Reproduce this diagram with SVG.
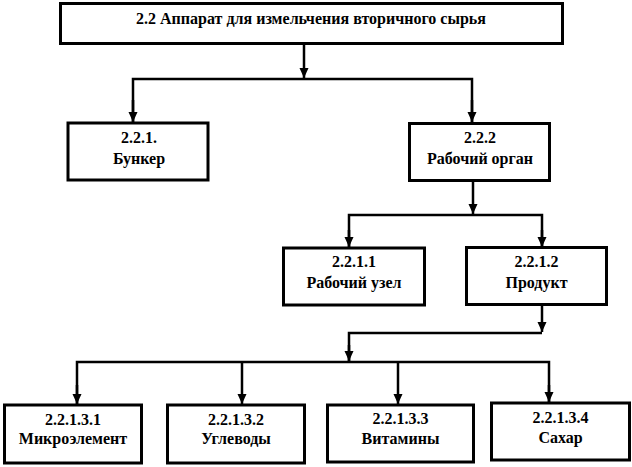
<svg xmlns="http://www.w3.org/2000/svg" width="632" height="467" viewBox="0 0 632 467">
<defs>
<style>
.box{fill:#fff;stroke:#000;stroke-width:3}
.t{font-family:"Times New Roman","Liberation Serif",serif;font-weight:bold;font-size:16px;text-anchor:middle;fill:#000}
.c{fill:none;stroke:#000;stroke-width:2.5}
</style>
<marker id="a" markerUnits="userSpaceOnUse" markerWidth="10" markerHeight="11" refX="10" refY="5" orient="auto" viewBox="0 0 10 10">
<path d="M0,0.5 L10,5 L0,9.5 Z" fill="#000"/>
</marker>
</defs>
<rect width="632" height="467" fill="#fff"/>
<g id="connectors">
<path class="c" d="M304,44 V78" marker-end="url(#a)"/>
<path class="c" d="M133,122 V79 H472 V122" />
<path class="c" d="M133,100 V122" marker-end="url(#a)"/>
<path class="c" d="M472,100 V122" marker-end="url(#a)"/>
<path class="c" d="M473,181 V214" marker-end="url(#a)"/>
<path class="c" d="M349,247 V215 H542 V247"/>
<path class="c" d="M349,230 V247" marker-end="url(#a)"/>
<path class="c" d="M542,230 V247" marker-end="url(#a)"/>
<path class="c" d="M542,304 V332" marker-end="url(#a)"/>
<path class="c" d="M542,333 H349 V361"/>
<path class="c" d="M349,345 V361" marker-end="url(#a)"/>
<path class="c" d="M77,404 V362 H549 V402"/>
<path class="c" d="M77,385 V404" marker-end="url(#a)"/>
<path class="c" d="M242,362 V404" marker-end="url(#a)"/>
<path class="c" d="M398,362 V404" marker-end="url(#a)"/>
<path class="c" d="M549,385 V402" marker-end="url(#a)"/>
</g>
<g id="n_root">
<rect class="box" x="60.5" y="3.5" width="502" height="40"/>
<text class="t" x="311" y="24" textLength="350" lengthAdjust="spacingAndGlyphs">2.2 Аппарат для измельчения вторичного сырья</text>
</g>
<g id="n_221">
<rect class="box" x="68" y="123" width="140" height="57"/>
<text class="t" x="139" y="143">2.2.1.</text>
<text class="t" x="139" y="164">Бункер</text>
</g>
<g id="n_222">
<rect class="box" x="409.5" y="123.5" width="140" height="57"/>
<text class="t" x="480" y="143">2.2.2</text>
<text class="t" x="480" y="164">Рабочий орган</text>
</g>
<g id="n_2211">
<rect class="box" x="283.5" y="248" width="141" height="57"/>
<text class="t" x="354" y="267">2.2.1.1</text>
<text class="t" x="354" y="288">Рабочий узел</text>
</g>
<g id="n_2212">
<rect class="box" x="466.5" y="247.5" width="140" height="57"/>
<text class="t" x="536.5" y="267">2.2.1.2</text>
<text class="t" x="536.5" y="288">Продукт</text>
</g>
<g id="n_22131">
<rect class="box" x="4.5" y="405" width="137" height="58"/>
<text class="t" x="73" y="425">2.2.1.3.1</text>
<text class="t" x="73" y="444">Микроэлемент</text>
</g>
<g id="n_22132">
<rect class="box" x="167.5" y="405" width="137" height="58"/>
<text class="t" x="236" y="425">2.2.1.3.2</text>
<text class="t" x="236" y="444">Углеводы</text>
</g>
<g id="n_22133">
<rect class="box" x="327.5" y="405" width="146" height="57"/>
<text class="t" x="400.5" y="424">2.2.1.3.3</text>
<text class="t" x="400.5" y="444">Витамины</text>
</g>
<g id="n_22134">
<rect class="box" x="491.5" y="403" width="138" height="57"/>
<text class="t" x="560.5" y="423">2.2.1.3.4</text>
<text class="t" x="560.5" y="443">Сахар</text>
</g>
</svg>
